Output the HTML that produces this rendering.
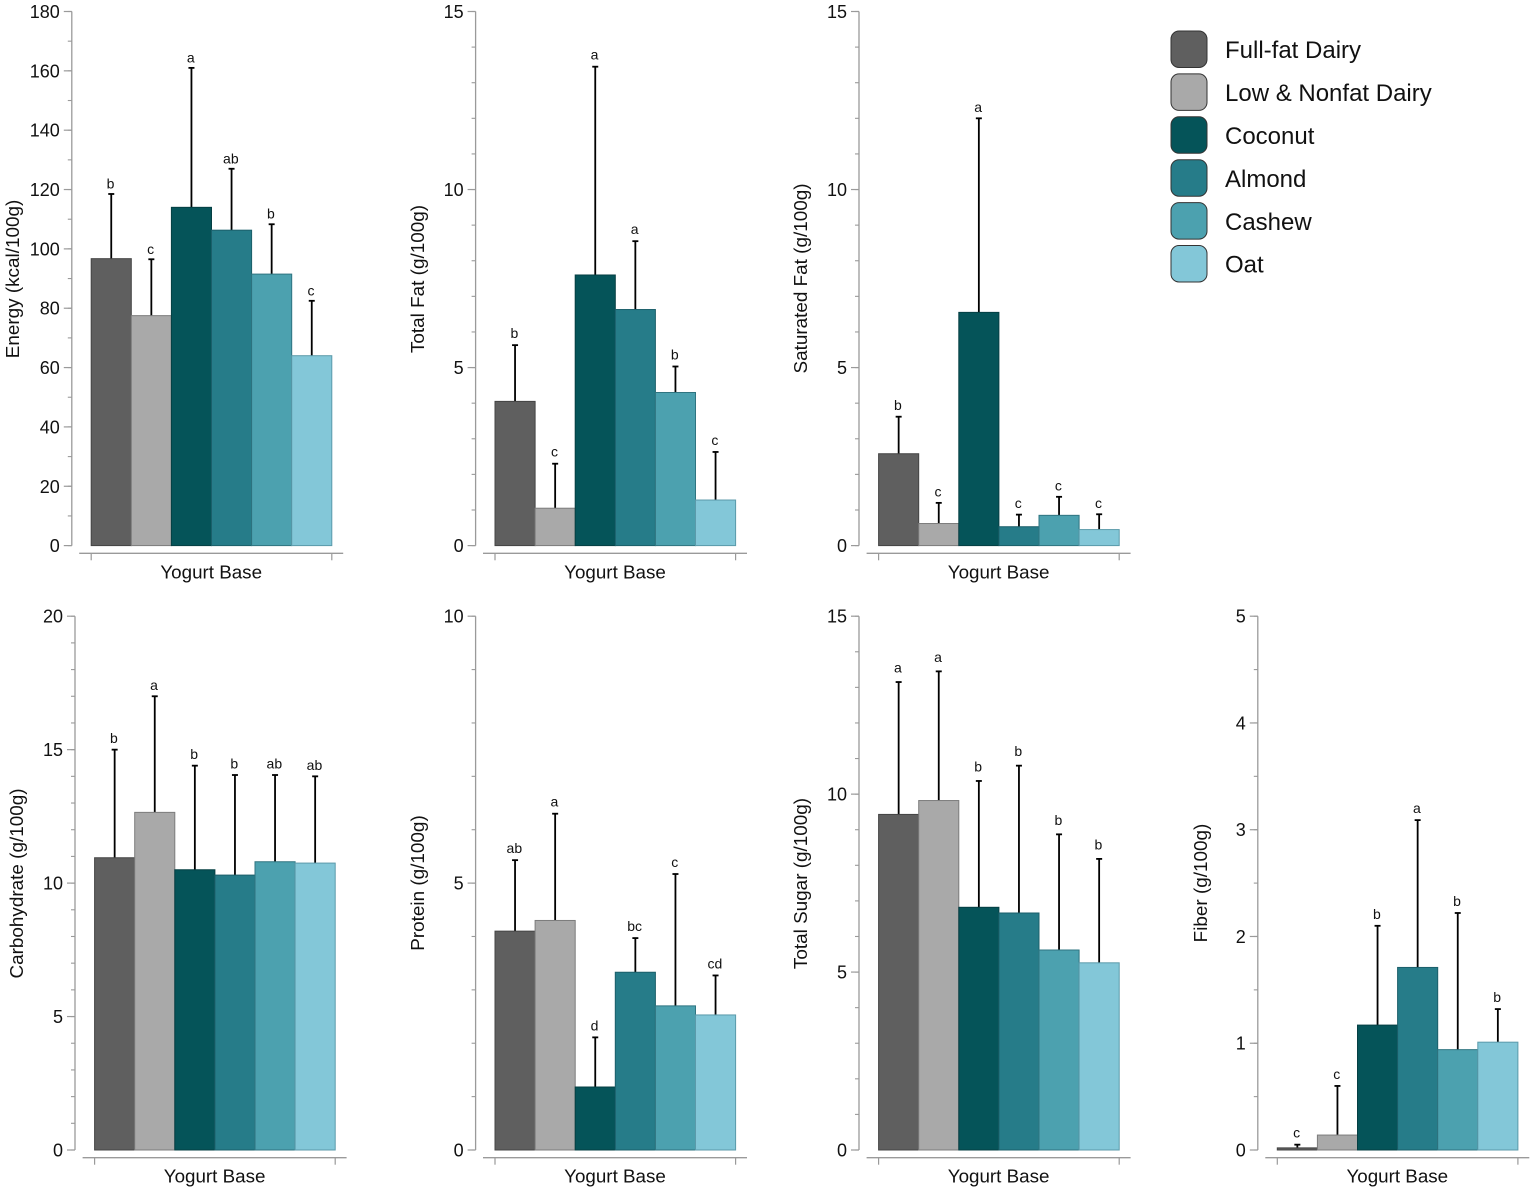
<!DOCTYPE html>
<html lang="en">
<head>
<meta charset="utf-8">
<title>Yogurt Base Nutrition Comparison</title>
<style>
  html, body { margin: 0; padding: 0; background: #fff; }
  svg { display: block; font-family: "Liberation Sans", Arial, sans-serif; filter: blur(0.35px); }
</style>
</head>
<body>
<svg id="figure" xmlns="http://www.w3.org/2000/svg" width="1535" height="1192" viewBox="0 0 1535 1192"></svg>
<script>
const categories = ["Full-fat Dairy", "Low & Nonfat Dairy", "Coconut", "Almond", "Cashew", "Oat"];

const energyMeans = [96.7, 77.5, 114, 106.3, 91.5, 64];
const energyUpper = [118.5, 96.5, 161, 127, 108.3, 82.5];
const energyLetters = ["b", "c", "a", "ab", "b", "c"];
const energyTicks = [0, 20, 40, 60, 80, 100, 120, 140, 160, 180];

const totalFatMeans = [4.05, 1.05, 7.6, 6.63, 4.3, 1.28];
const totalFatUpper = [5.63, 2.3, 13.45, 8.55, 5.03, 2.63];
const totalFatLetters = ["b", "c", "a", "a", "b", "c"];
const totalFatTicks = [0, 5, 10, 15];

const satFatMeans = [2.58, 0.62, 6.55, 0.53, 0.85, 0.45];
const satFatUpper = [3.62, 1.2, 12, 0.87, 1.37, 0.88];
const satFatLetters = ["b", "c", "a", "c", "c", "c"];
const satFatTicks = [0, 5, 10, 15];

const carbMeans = [10.95, 12.65, 10.5, 10.3, 10.8, 10.75];
const carbUpper = [15, 17, 14.4, 14.05, 14.05, 14];
const carbLetters = ["b", "a", "b", "b", "ab", "ab"];
const carbTicks = [0, 5, 10, 15, 20];

const proteinMeans = [4.1, 4.3, 1.18, 3.33, 2.7, 2.53];
const proteinUpper = [5.43, 6.3, 2.11, 3.97, 5.17, 3.27];
const proteinLetters = ["ab", "a", "d", "bc", "c", "cd"];
const proteinTicks = [0, 5, 10];

const sugarMeans = [9.43, 9.82, 6.82, 6.66, 5.62, 5.26];
const sugarUpper = [13.15, 13.45, 10.37, 10.8, 8.87, 8.18];
const sugarLetters = ["a", "a", "b", "b", "b", "b"];
const sugarTicks = [0, 5, 10, 15];

const fiberMeans = [0.02, 0.14, 1.17, 1.71, 0.94, 1.01];
const fiberUpper = [0.05, 0.6, 2.1, 3.09, 2.22, 1.32];
const fiberLetters = ["c", "c", "b", "a", "b", "b"];
const fiberTicks = [0, 1, 2, 3, 4, 5];

const barColors = ["#5f5f5f", "#a9a9a9", "#055459", "#267c89", "#4ca1af", "#83c7d8"];
const barStrokes = ["#444444", "#7c7c7c", "#053f43", "#1b5f6a", "#2f7480", "#5b9aaa"];

const SVG_NS = "http://www.w3.org/2000/svg";
const figure = document.getElementById("figure");

function make(tag, attrs, parent, text) {
  const el = document.createElementNS(SVG_NS, tag);
  for (const k in attrs) el.setAttribute(k, attrs[k]);
  if (text !== undefined) el.textContent = text;
  parent.appendChild(el);
  return el;
}

function drawPanel(cfg) {
  const group = make("g", {}, figure);
  
  

  const yMax = cfg.ticks[cfg.ticks.length - 1];
  const yScale = v => cfg.bottom - (v / yMax) * (cfg.bottom - cfg.top);
  const barW = 40.1;
  const xScale = i => cfg.barLeft + i * barW;
  const groupRight = xScale(categories.length);
  const axisGray = "#9a9a9a";

  // y axis line
  const yAxis = make("line", { x1: cfg.axisX, x2: cfg.axisX, y1: yScale(yMax), y2: yScale(0), stroke: axisGray, "stroke-width": 1.3 }, group);
  
  

  // minor ticks
  for (let v = 0; v <= yMax + 1e-9; v += cfg.minorStep) {
    const minor = make("line", { x1: cfg.axisX - 4, x2: cfg.axisX, y1: yScale(v), y2: yScale(v), stroke: axisGray, "stroke-width": 1.1 }, group);
    
    
  }

  // major ticks + labels
  cfg.ticks.forEach(v => {
    const major = make("line", { x1: cfg.axisX - 8, x2: cfg.axisX, y1: yScale(v), y2: yScale(v), stroke: axisGray, "stroke-width": 1.2 }, group);
    
    
    const lab = make("text", { x: cfg.axisX - 12, y: yScale(v) + 6.5, "text-anchor": "end", "font-size": 18, fill: "#111" }, group, String(v));
    
    
  });

  // y title
  const yTitle = make("text", { transform: "translate(" + cfg.titleX + "," + cfg.titleY + ") rotate(-90)", "text-anchor": "middle", "font-size": 18.9, fill: "#111" }, group, cfg.title);
  
  

  // x axis
  const axisY = cfg.bottom + 7.7;
  const xAxis = make("line", { x1: cfg.barLeft - 12, x2: cfg.barLeft + 252, y1: axisY, y2: axisY, stroke: axisGray, "stroke-width": 1.3 }, group);
  
  
  [xScale(0), groupRight].forEach(x => {
    const t = make("line", { x1: x, x2: x, y1: axisY, y2: axisY + 7, stroke: axisGray, "stroke-width": 1.2 }, group);
    
    
  });
  const xTitle = make("text", { x: cfg.barLeft + 120, y: axisY + 25, "text-anchor": "middle", "font-size": 18.8, fill: "#111" }, group, "Yogurt Base");
  
  

  // error bars (behind bars), bars, letters
  categories.forEach((cat, i) => {
    const cx = xScale(i) + barW / 2;
    const yTop = yScale(cfg.upper[i]);
    const yMean = yScale(cfg.means[i]);

    const stem = make("line", { x1: cx, x2: cx, y1: yTop, y2: yMean, stroke: "#000", "stroke-width": 1.8 }, group);
    
    
    const cap = make("line", { x1: cx - 3, x2: cx + 3, y1: yTop, y2: yTop, stroke: "#000", "stroke-width": 1.8 }, group);
    
    

    const bar = make("rect", { x: xScale(i), y: yMean, width: barW, height: yScale(0) - yMean, fill: barColors[i], stroke: barStrokes[i], "stroke-width": 1 }, group);
    
    

    const letter = make("text", { x: cx - 0.7, y: yTop - cfg.letterGap, "text-anchor": "middle", "font-size": 14, fill: "#111" }, group, cfg.letters[i]);
    
    
  });
}

const rowOneTop = 11.5, rowOneBottom = 545.6, rowTwoTop = 616.2, rowTwoBottom = 1150;

drawPanel({ name: "energy", title: "Energy (kcal/100g)", means: energyMeans, upper: energyUpper, letters: energyLetters, ticks: energyTicks, minorStep: 10, axisX: 71.8, barLeft: 91.2, top: rowOneTop, bottom: rowOneBottom, titleX: 19, titleY: 279, letterGap: 5.5 });
drawPanel({ name: "total-fat", title: "Total Fat (g/100g)", means: totalFatMeans, upper: totalFatUpper, letters: totalFatLetters, ticks: totalFatTicks, minorStep: 1, axisX: 475.6, barLeft: 495, top: rowOneTop, bottom: rowOneBottom, titleX: 424, titleY: 279, letterGap: 7 });
drawPanel({ name: "saturated-fat", title: "Saturated Fat (g/100g)", means: satFatMeans, upper: satFatUpper, letters: satFatLetters, ticks: satFatTicks, minorStep: 1, axisX: 859, barLeft: 878.6, top: rowOneTop, bottom: rowOneBottom, titleX: 807, titleY: 278.5, letterGap: 6.5 });
drawPanel({ name: "carbohydrate", title: "Carbohydrate (g/100g)", means: carbMeans, upper: carbUpper, letters: carbLetters, ticks: carbTicks, minorStep: 1, axisX: 75, barLeft: 94.6, top: rowTwoTop, bottom: rowTwoBottom, titleX: 23, titleY: 883.5, letterGap: 6.5 });
drawPanel({ name: "protein", title: "Protein (g/100g)", means: proteinMeans, upper: proteinUpper, letters: proteinLetters, ticks: proteinTicks, minorStep: 1, axisX: 475.6, barLeft: 495, top: rowTwoTop, bottom: rowTwoBottom, titleX: 424, titleY: 883, letterGap: 7 });
drawPanel({ name: "total-sugar", title: "Total Sugar (g/100g)", means: sugarMeans, upper: sugarUpper, letters: sugarLetters, ticks: sugarTicks, minorStep: 1, axisX: 859, barLeft: 878.6, top: rowTwoTop, bottom: rowTwoBottom, titleX: 807, titleY: 883.5, letterGap: 9.5 });
drawPanel({ name: "fiber", title: "Fiber (g/100g)", means: fiberMeans, upper: fiberUpper, letters: fiberLetters, ticks: fiberTicks, minorStep: 0.5, axisX: 1257.8, barLeft: 1277.3, top: rowTwoTop, bottom: rowTwoBottom, titleX: 1207, titleY: 883, letterGap: 7 });

// legend
const legend = make("g", {}, figure);


categories.forEach((cat, i) => {
  const rowY = 31 + i * 42.9;
  const entry = make("g", {}, legend);
  
  
  const swatch = make("rect", { x: 1171, y: rowY, width: 36, height: 36.5, rx: 8, ry: 8, fill: barColors[i], stroke: "#333", "stroke-width": 1 }, entry);
  
  
  const label = make("text", { x: 1225, y: rowY + 27.2, "font-size": 24, fill: "#111" }, entry, cat);
  
  
});
</script>
</body>
</html>
